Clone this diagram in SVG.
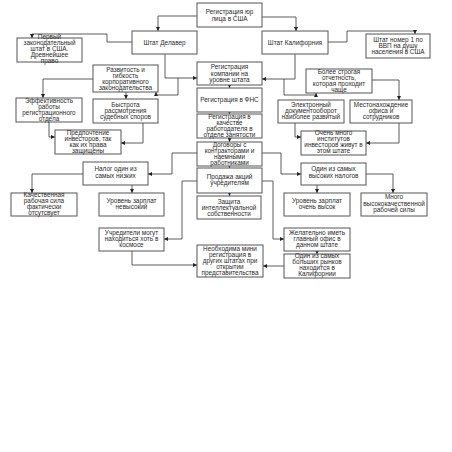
<svg xmlns="http://www.w3.org/2000/svg" width="452" height="452" viewBox="0 0 452 452">
<style>
.b{fill:#fff;stroke:#555;stroke-width:1}
.t{font-family:"Liberation Sans",Arial,sans-serif;font-size:6.4px;fill:#2a2a2a;text-anchor:middle}
.c{fill:none;stroke:#333;stroke-width:0.8;marker-end:url(#a)}
</style>
<defs>
<marker id="a" viewBox="0 0 6 6" markerWidth="4" markerHeight="4" refX="6" refY="3" orient="auto" markerUnits="userSpaceOnUse"><path d="M0,0L6,3L0,6z" fill="#222"/></marker>
</defs>
<rect width="452" height="452" fill="#fff"/>
<g id="connectors">
<polyline class="c" points="197,16 158,16 158,31"/>
<polyline class="c" points="262,17 296,17 296,31"/>
<polyline class="c" points="132,42 107,42 107,34 32,34 32,38"/>
<polyline class="c" points="328,42 347,42 347,31 415,31 415,34"/>
<polyline class="c" points="165,54 165,78 197,78"/>
<polyline class="c" points="178,78 178,95 156,95 156,92"/>
<polyline class="c" points="295,54 295,79 262,79"/>
<polyline class="c" points="284,79 284,95 316,95 316,93"/>
<polyline class="c" points="372,80 399,80 399,100"/>
<polyline class="c" points="93,79 43,79 43,98"/>
<polyline class="c" points="126,92 126,99"/>
<polyline class="c" points="49,122 49,137 55,137"/>
<polyline class="c" points="143,123 143,143 121,143"/>
<polyline class="c" points="295,123 295,137 301,137"/>
<polyline class="c" points="399,123 399,143 366,143"/>
<polyline class="c" points="229.5,85 229.5,88"/>
<polyline class="c" points="229.5,112 229.5,114"/>
<polyline class="c" points="229.5,138 229.5,142"/>
<polyline class="c" points="229.5,166 229.5,168"/>
<polyline class="c" points="229.5,193 229.5,196"/>
<polyline class="c" points="197,153 172,153 172,174 148,174"/>
<polyline class="c" points="262,153 281,153 281,174 301,174"/>
<polyline class="c" points="83,174 32,174 32,193"/>
<polyline class="c" points="132,185 132,193"/>
<polyline class="c" points="317,185 317,193"/>
<polyline class="c" points="366,174 393,174 393,193"/>
<polyline class="c" points="197,181 182,181 182,239 164,239"/>
<polyline class="c" points="262,181 273,181 273,239 284,239"/>
<polyline class="c" points="132,251 132,265 197,265"/>
<polyline class="c" points="317,251 317,254"/>
<polyline class="c" points="284,266 263,266"/>
</g>
<g id="top"><rect class="b" x="197" y="3" width="65" height="24"/><text class="t" x="229.5" y="14">Регистрация юр</text><text class="t" x="229.5" y="20.5">лица в США</text></g>
<g id="delaware"><rect class="b" x="132" y="31" width="65" height="23"/><text class="t" x="164.5" y="44.5">Штат Делавер</text></g>
<g id="california"><rect class="b" x="262" y="31" width="66" height="23"/><text class="t" x="295" y="44.5">Штат Калифорния</text></g>
<g id="first"><rect class="b" x="17" y="38" width="65" height="24"/><text class="t" x="49.5" y="39">Первый</text><text class="t" x="49.5" y="45">законодательный</text><text class="t" x="49.5" y="51">штат в США.</text><text class="t" x="49.5" y="57">Древнейшее</text><text class="t" x="49.5" y="63">право</text></g>
<g id="gdp"><rect class="b" x="366" y="34" width="64" height="24"/><text class="t" x="398" y="42">Штат номер 1 по</text><text class="t" x="398" y="48">ВВП на душу</text><text class="t" x="398" y="54">населения в США</text></g>
<g id="razv"><rect class="b" x="93" y="65" width="65" height="27"/><text class="t" x="125.5" y="71.5">Развитость и</text><text class="t" x="125.5" y="77.5">гибкость</text><text class="t" x="125.5" y="83.5">корпоративного</text><text class="t" x="125.5" y="89.5">законодательства</text></g>
<g id="strog"><rect class="b" x="306" y="69" width="66" height="24"/><text class="t" x="339" y="74">Более строгая</text><text class="t" x="339" y="80">отчетность,</text><text class="t" x="339" y="86">которая проходит</text><text class="t" x="339" y="92">чаще</text></g>
<g id="regstate"><rect class="b" x="197" y="62" width="65" height="23"/><text class="t" x="229.5" y="69">Регистрация</text><text class="t" x="229.5" y="75.5">компании на</text><text class="t" x="229.5" y="82">уровне штата</text></g>
<g id="fns"><rect class="b" x="197" y="88" width="65" height="24"/><text class="t" x="229.5" y="102">Регистрация в ФНС</text></g>
<g id="zan"><rect class="b" x="197" y="114" width="65" height="24"/><text class="t" x="229.5" y="119">Регистрация в</text><text class="t" x="229.5" y="125">качестве</text><text class="t" x="229.5" y="131">работодателя в</text><text class="t" x="229.5" y="137">отделе занятости</text></g>
<g id="dog"><rect class="b" x="197" y="142" width="65" height="24"/><text class="t" x="229.5" y="147">Договоры с</text><text class="t" x="229.5" y="153">контракторами и</text><text class="t" x="229.5" y="159">наемными</text><text class="t" x="229.5" y="165">работниками</text></g>
<g id="prod"><rect class="b" x="197" y="168" width="65" height="25"/><text class="t" x="229.5" y="179">Продажа акций</text><text class="t" x="229.5" y="185">учредителям</text></g>
<g id="zash"><rect class="b" x="197" y="196" width="64" height="23"/><text class="t" x="229" y="204">Защита</text><text class="t" x="229" y="210">интеллектуальной</text><text class="t" x="229" y="216">собственности</text></g>
<g id="eff"><rect class="b" x="16" y="98" width="66" height="24"/><text class="t" x="49" y="102.5">Эффективность</text><text class="t" x="49" y="108.5">работы</text><text class="t" x="49" y="114.5">регистрационного</text><text class="t" x="49" y="120.5">отдела</text></g>
<g id="bystr"><rect class="b" x="93" y="99" width="65" height="24"/><text class="t" x="125.5" y="107">Быстрота</text><text class="t" x="125.5" y="113">рассмотрения</text><text class="t" x="125.5" y="119">судебных споров</text></g>
<g id="pref"><rect class="b" x="55" y="130" width="66" height="24"/><text class="t" x="88" y="135">Предпочтение</text><text class="t" x="88" y="141">инвесторов, так</text><text class="t" x="88" y="147">как их права</text><text class="t" x="88" y="153">защищены</text></g>
<g id="elec"><rect class="b" x="278" y="100" width="66" height="23"/><text class="t" x="311" y="107">Электронный</text><text class="t" x="311" y="113">документооборот</text><text class="t" x="311" y="119">наиболее развитый</text></g>
<g id="mest"><rect class="b" x="350" y="100" width="62" height="23"/><text class="t" x="381" y="107">Местонахождение</text><text class="t" x="381" y="113">офиса и</text><text class="t" x="381" y="119">сотрудников</text></g>
<g id="inv"><rect class="b" x="301" y="131" width="65" height="24"/><text class="t" x="333.5" y="135">Очень много</text><text class="t" x="333.5" y="141">институтов</text><text class="t" x="333.5" y="147">инвесторов живут в</text><text class="t" x="333.5" y="153">этом штате</text></g>
<g id="nalog"><rect class="b" x="83" y="162" width="65" height="23"/><text class="t" x="115.5" y="171">Налог один из</text><text class="t" x="115.5" y="178">самых низких</text></g>
<g id="vys"><rect class="b" x="301" y="163" width="65" height="22"/><text class="t" x="333.5" y="171">Один из самых</text><text class="t" x="333.5" y="178">высоких налогов</text></g>
<g id="kach"><rect class="b" x="11" y="193" width="66" height="23"/><text class="t" x="44" y="197">Качественная</text><text class="t" x="44" y="203">рабочая сила</text><text class="t" x="44" y="209">фактически</text><text class="t" x="44" y="215">отсутсвует</text></g>
<g id="lowpay"><rect class="b" x="99" y="193" width="65" height="23"/><text class="t" x="131.5" y="203">Уровень зарплат</text><text class="t" x="131.5" y="209">невысокий</text></g>
<g id="highpay"><rect class="b" x="284" y="193" width="66" height="23"/><text class="t" x="317" y="203">Уровень зарплат</text><text class="t" x="317" y="209">очень высок</text></g>
<g id="mnogo"><rect class="b" x="361" y="193" width="66" height="23"/><text class="t" x="394" y="199">Много</text><text class="t" x="394" y="206">высококачественной</text><text class="t" x="394" y="212">рабочей силы</text></g>
<g id="uchr"><rect class="b" x="99" y="228" width="65" height="23"/><text class="t" x="131.5" y="234.5">Учредители могут</text><text class="t" x="131.5" y="240.5">находиться хоть в</text><text class="t" x="131.5" y="246.5">космосе</text></g>
<g id="zhel"><rect class="b" x="284" y="228" width="66" height="23"/><text class="t" x="317" y="234.5">Желательно иметь</text><text class="t" x="317" y="240.5">главный офис в</text><text class="t" x="317" y="246.5">данном штате</text></g>
<g id="neobh"><rect class="b" x="197" y="245" width="66" height="32"/><text class="t" x="230" y="251">Необходима мини</text><text class="t" x="230" y="257">регистрация в</text><text class="t" x="230" y="263">других штатах при</text><text class="t" x="230" y="269">открытии</text><text class="t" x="230" y="275">представительства</text></g>
<g id="rynok"><rect class="b" x="284" y="254" width="66" height="24"/><text class="t" x="317" y="258">Один из самых</text><text class="t" x="317" y="264">больших рынков</text><text class="t" x="317" y="270">находится в</text><text class="t" x="317" y="276">Калифорнии</text></g>
</svg>
